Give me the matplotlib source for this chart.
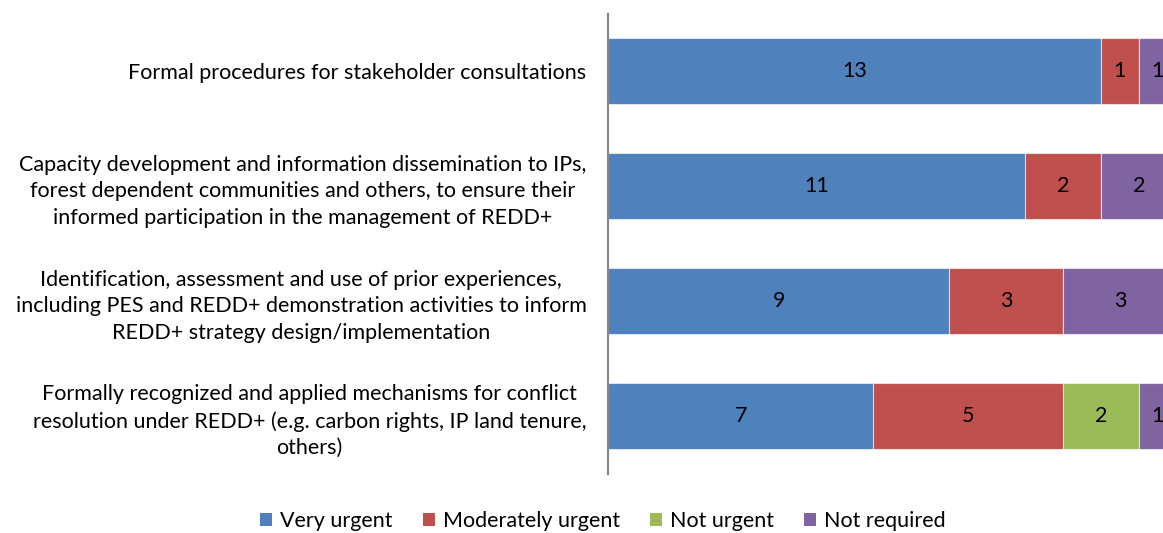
import matplotlib
matplotlib.use("Agg")
import matplotlib.pyplot as plt
from matplotlib.patches import Patch

categories = [
    "Formal procedures for stakeholder consultations",
    "Capacity development and information dissemination to IPs,\nforest dependent communities and others, to ensure their\ninformed participation in the management of REDD+",
    "Identification, assessment and use of prior experiences,\nincluding PES and REDD+ demonstration activities to inform\nREDD+ strategy design/implementation",
    "Formally recognized and applied mechanisms for conflict\nresolution under REDD+ (e.g. carbon rights, IP land tenure,\nothers)",
]
series_names = ["Very urgent", "Moderately urgent", "Not urgent", "Not required"]
very_urgent = [13, 11, 9, 7]
moderately_urgent = [1, 2, 3, 5]
not_urgent = [0, 0, 0, 2]
not_required = [1, 2, 3, 1]
colors = ["#4F81BD", "#C0504D", "#9BBB59", "#8064A2"]

plt.rcParams['font.family'] = ['Lato', 'DejaVu Sans']
FS = 15.5

fig = plt.figure(figsize=(11.63, 5.33), dpi=100)
ax = fig.add_axes([608/1163, 1-473.5/533, 568.8/1163, 460/533])

series = [very_urgent, moderately_urgent, not_urgent, not_required]
ypos = list(range(len(categories)))
left = [0]*len(categories)
for vals, col in zip(series, colors):
    bars = ax.barh(ypos, vals, left=left, height=0.571, color=col,
                   edgecolor=(1, 1, 1, 0.6), linewidth=0.8)
    for b, v, l in zip(bars, vals, left):
        if v > 0:
            ax.text(l + v/2, b.get_y() + b.get_height()/2, str(v),
                    ha='center', va='center', fontsize=FS, color='black')
    left = [a + b for a, b in zip(left, vals)]

ax.set_xlim(0, 15)
ax.set_ylim(3.5, -0.5)
ax.set_yticks(ypos)
ax.set_yticklabels(categories, fontsize=FS, multialignment='center', linespacing=1.4)
ax.tick_params(axis='y', length=0, pad=15.5)
ax.set_xticks([])
for s in ['top', 'right', 'bottom']:
    ax.spines[s].set_visible(False)
ax.spines['left'].set_color('#868686')
ax.spines['left'].set_linewidth(1.5)

handles = [Patch(facecolor=c, edgecolor='none') for c in colors]
fig.legend(handles, series_names, loc='center', bbox_to_anchor=(603/1163, 1-521/533),
           ncol=4, frameon=False, fontsize=FS, handlelength=0.56, handleheight=0.56,
           handletextpad=0.37, columnspacing=1.4)

fig.savefig("out.png", dpi=100)
